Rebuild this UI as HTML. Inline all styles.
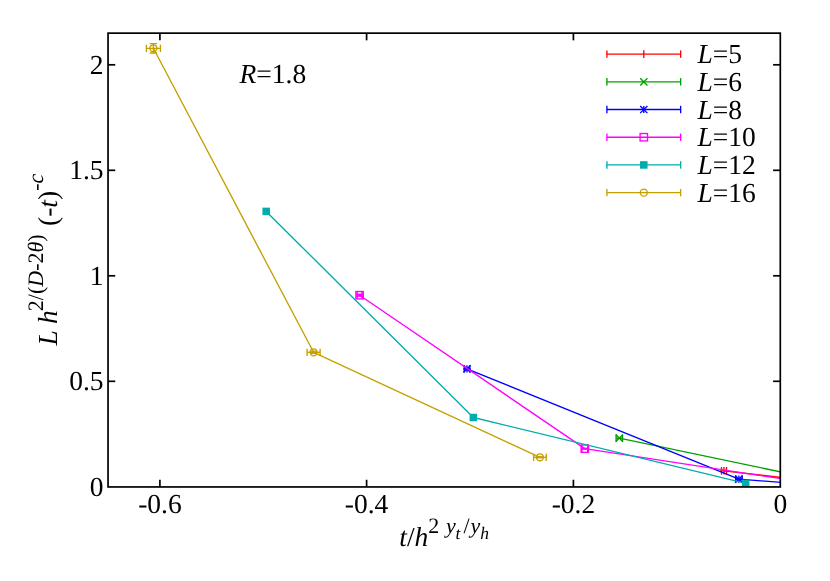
<!DOCTYPE html>
<html><head><meta charset="utf-8"><title>plot</title>
<style>
html,body{margin:0;padding:0;background:#fff;}
svg{display:block;will-change:transform;}
text{font-family:"Liberation Serif",serif;fill:#000;text-rendering:geometricPrecision;}
.i{font-style:italic;}
</style></head><body>
<svg width="830" height="581" viewBox="0 0 830 581">
<rect width="830" height="581" fill="#fff"/>
<defs><clipPath id="c"><rect x="108.05" y="33.15" width="672.25" height="453.8"/></clipPath></defs>

<g clip-path="url(#c)">
<polyline points="724.00,470.80 900.00,491.57" fill="none" stroke="#ff0000" stroke-width="1.35" stroke-linejoin="round"/>
<line x1="721.50" y1="470.80" x2="726.50" y2="470.80" stroke="#ff0000" stroke-width="1.35" /><line x1="721.50" y1="467.00" x2="721.50" y2="474.60" stroke="#ff0000" stroke-width="1.35" /><line x1="726.50" y1="467.00" x2="726.50" y2="474.60" stroke="#ff0000" stroke-width="1.35" />
<line x1="724.00" y1="467.00" x2="724.00" y2="474.60" stroke="#ff0000" stroke-width="1.35" />
<line x1="720.20" y1="470.80" x2="721.50" y2="470.80" stroke="#ff0000" stroke-width="1.35" />
<line x1="726.50" y1="470.80" x2="727.80" y2="470.80" stroke="#ff0000" stroke-width="1.35" />
<polyline points="619.30,438.20 900.00,496.78" fill="none" stroke="#00a000" stroke-width="1.35" stroke-linejoin="round"/>
<line x1="616.10" y1="438.20" x2="622.50" y2="438.20" stroke="#00a000" stroke-width="1.35" /><line x1="616.10" y1="434.60" x2="616.10" y2="441.80" stroke="#00a000" stroke-width="1.35" /><line x1="622.50" y1="434.60" x2="622.50" y2="441.80" stroke="#00a000" stroke-width="1.35" />
<line x1="615.70" y1="434.60" x2="622.90" y2="441.80" stroke="#00a000" stroke-width="1.35" /><line x1="615.70" y1="441.80" x2="622.90" y2="434.60" stroke="#00a000" stroke-width="1.35" />
<polyline points="467.00,368.90 738.90,479.10 900.00,491.67" fill="none" stroke="#0000ff" stroke-width="1.35" stroke-linejoin="round"/>
<line x1="464.20" y1="368.90" x2="469.80" y2="368.90" stroke="#0000ff" stroke-width="1.35" /><line x1="464.20" y1="365.30" x2="464.20" y2="372.50" stroke="#0000ff" stroke-width="1.35" /><line x1="469.80" y1="365.30" x2="469.80" y2="372.50" stroke="#0000ff" stroke-width="1.35" />
<line x1="467.00" y1="365.30" x2="467.00" y2="372.50" stroke="#0000ff" stroke-width="1.35" /><line x1="463.40" y1="365.30" x2="470.60" y2="372.50" stroke="#0000ff" stroke-width="1.35" /><line x1="463.40" y1="372.50" x2="470.60" y2="365.30" stroke="#0000ff" stroke-width="1.35" />
<line x1="463.20" y1="368.90" x2="470.80" y2="368.90" stroke="#0000ff" stroke-width="1.35" />
<line x1="735.60" y1="479.10" x2="742.20" y2="479.10" stroke="#0000ff" stroke-width="1.35" /><line x1="735.60" y1="475.50" x2="735.60" y2="482.70" stroke="#0000ff" stroke-width="1.35" /><line x1="742.20" y1="475.50" x2="742.20" y2="482.70" stroke="#0000ff" stroke-width="1.35" />
<line x1="738.90" y1="475.50" x2="738.90" y2="482.70" stroke="#0000ff" stroke-width="1.35" /><line x1="735.30" y1="475.50" x2="742.50" y2="482.70" stroke="#0000ff" stroke-width="1.35" /><line x1="735.30" y1="482.70" x2="742.50" y2="475.50" stroke="#0000ff" stroke-width="1.35" />
<line x1="735.10" y1="479.10" x2="742.70" y2="479.10" stroke="#0000ff" stroke-width="1.35" />
<polyline points="359.60,295.20 584.80,448.65 900.00,496.88" fill="none" stroke="#ff00ff" stroke-width="1.35" stroke-linejoin="round"/>
<line x1="357.20" y1="295.20" x2="362.00" y2="295.20" stroke="#ff00ff" stroke-width="1.35" /><line x1="357.20" y1="291.60" x2="357.20" y2="298.80" stroke="#ff00ff" stroke-width="1.35" /><line x1="362.00" y1="291.60" x2="362.00" y2="298.80" stroke="#ff00ff" stroke-width="1.35" />
<line x1="359.60" y1="294.20" x2="359.60" y2="296.20" stroke="#ff00ff" stroke-width="1.35" /><line x1="356.00" y1="294.20" x2="363.20" y2="294.20" stroke="#ff00ff" stroke-width="1.35" /><line x1="356.00" y1="296.20" x2="363.20" y2="296.20" stroke="#ff00ff" stroke-width="1.35" />
<rect x="355.90" y="291.50" width="7.40" height="7.40" fill="none" stroke="#ff00ff" stroke-width="1.35"/>
<line x1="581.90" y1="448.65" x2="587.70" y2="448.65" stroke="#ff00ff" stroke-width="1.35" /><line x1="581.90" y1="445.05" x2="581.90" y2="452.25" stroke="#ff00ff" stroke-width="1.35" /><line x1="587.70" y1="445.05" x2="587.70" y2="452.25" stroke="#ff00ff" stroke-width="1.35" />
<line x1="584.80" y1="448.30" x2="584.80" y2="449.00" stroke="#ff00ff" stroke-width="1.35" /><line x1="581.20" y1="448.30" x2="588.40" y2="448.30" stroke="#ff00ff" stroke-width="1.35" /><line x1="581.20" y1="449.00" x2="588.40" y2="449.00" stroke="#ff00ff" stroke-width="1.35" />
<rect x="581.10" y="444.95" width="7.40" height="7.40" fill="none" stroke="#ff00ff" stroke-width="1.35"/>
<polyline points="266.20,211.40 473.35,417.50 745.70,483.30" fill="none" stroke="#00acac" stroke-width="1.35" stroke-linejoin="round"/>
<rect x="262.45" y="207.65" width="7.50" height="7.50" fill="#00acac"/>
<rect x="469.60" y="413.75" width="7.50" height="7.50" fill="#00acac"/>
<rect x="741.95" y="479.55" width="7.50" height="7.50" fill="#00acac"/>
<polyline points="153.40,48.30 313.60,352.30 539.90,457.30" fill="none" stroke="#c4a000" stroke-width="1.35" stroke-linejoin="round"/>
<line x1="146.35" y1="48.30" x2="160.45" y2="48.30" stroke="#c4a000" stroke-width="1.35" /><line x1="146.35" y1="44.70" x2="146.35" y2="51.90" stroke="#c4a000" stroke-width="1.35" /><line x1="160.45" y1="44.70" x2="160.45" y2="51.90" stroke="#c4a000" stroke-width="1.35" />
<line x1="153.40" y1="43.65" x2="153.40" y2="52.95" stroke="#c4a000" stroke-width="1.35" /><line x1="149.80" y1="43.65" x2="157.00" y2="43.65" stroke="#c4a000" stroke-width="1.35" /><line x1="149.80" y1="52.95" x2="157.00" y2="52.95" stroke="#c4a000" stroke-width="1.35" />
<circle cx="153.40" cy="48.30" r="3.5" fill="none" stroke="#c4a000" stroke-width="1.35"/>
<line x1="307.10" y1="352.30" x2="320.10" y2="352.30" stroke="#c4a000" stroke-width="1.35" /><line x1="307.10" y1="348.70" x2="307.10" y2="355.90" stroke="#c4a000" stroke-width="1.35" /><line x1="320.10" y1="348.70" x2="320.10" y2="355.90" stroke="#c4a000" stroke-width="1.35" />
<line x1="313.60" y1="351.20" x2="313.60" y2="353.40" stroke="#c4a000" stroke-width="1.35" /><line x1="310.60" y1="351.20" x2="316.60" y2="351.20" stroke="#c4a000" stroke-width="1.35" /><line x1="310.60" y1="353.40" x2="316.60" y2="353.40" stroke="#c4a000" stroke-width="1.35" />
<circle cx="313.60" cy="352.30" r="3.5" fill="none" stroke="#c4a000" stroke-width="1.35"/>
<line x1="533.60" y1="457.30" x2="546.20" y2="457.30" stroke="#c4a000" stroke-width="1.35" /><line x1="533.60" y1="453.70" x2="533.60" y2="460.90" stroke="#c4a000" stroke-width="1.35" /><line x1="546.20" y1="453.70" x2="546.20" y2="460.90" stroke="#c4a000" stroke-width="1.35" />
<line x1="539.90" y1="456.85" x2="539.90" y2="457.75" stroke="#c4a000" stroke-width="1.35" /><line x1="536.90" y1="456.85" x2="542.90" y2="456.85" stroke="#c4a000" stroke-width="1.35" /><line x1="536.90" y1="457.75" x2="542.90" y2="457.75" stroke="#c4a000" stroke-width="1.35" />
<circle cx="539.90" cy="457.30" r="3.5" fill="none" stroke="#c4a000" stroke-width="1.35"/>
</g>
<rect x="108.05" y="33.15" width="672.25" height="453.8" fill="none" stroke="#000" stroke-width="1.7"/>
<line x1="159.90" y1="486.95" x2="159.90" y2="479.75" stroke="#000" stroke-width="1.7" />
<line x1="159.90" y1="33.15" x2="159.90" y2="40.35" stroke="#000" stroke-width="1.7" />
<text x="159.9" y="512.8" font-size="27.5" text-anchor="middle">-0.6</text>
<line x1="366.60" y1="486.95" x2="366.60" y2="479.75" stroke="#000" stroke-width="1.7" />
<line x1="366.60" y1="33.15" x2="366.60" y2="40.35" stroke="#000" stroke-width="1.7" />
<text x="366.6" y="512.8" font-size="27.5" text-anchor="middle">-0.4</text>
<line x1="573.40" y1="486.95" x2="573.40" y2="479.75" stroke="#000" stroke-width="1.7" />
<line x1="573.40" y1="33.15" x2="573.40" y2="40.35" stroke="#000" stroke-width="1.7" />
<text x="573.4" y="512.8" font-size="27.5" text-anchor="middle">-0.2</text>
<text x="780.3" y="512.8" font-size="27.5" text-anchor="middle">0</text>
<text x="103.6" y="495.9" font-size="27.5" text-anchor="end">0</text>
<line x1="108.05" y1="381.30" x2="115.25" y2="381.30" stroke="#000" stroke-width="1.7" />
<line x1="780.30" y1="381.30" x2="773.10" y2="381.30" stroke="#000" stroke-width="1.7" />
<text x="103.6" y="390.3" font-size="27.5" text-anchor="end">0.5</text>
<line x1="108.05" y1="275.80" x2="115.25" y2="275.80" stroke="#000" stroke-width="1.7" />
<line x1="780.30" y1="275.80" x2="773.10" y2="275.80" stroke="#000" stroke-width="1.7" />
<text x="103.6" y="284.8" font-size="27.5" text-anchor="end">1</text>
<line x1="108.05" y1="170.30" x2="115.25" y2="170.30" stroke="#000" stroke-width="1.7" />
<line x1="780.30" y1="170.30" x2="773.10" y2="170.30" stroke="#000" stroke-width="1.7" />
<text x="103.6" y="179.3" font-size="27.5" text-anchor="end">1.5</text>
<line x1="108.05" y1="64.80" x2="115.25" y2="64.80" stroke="#000" stroke-width="1.7" />
<line x1="780.30" y1="64.80" x2="773.10" y2="64.80" stroke="#000" stroke-width="1.7" />
<text x="103.6" y="73.8" font-size="27.5" text-anchor="end">2</text>
<line x1="606.90" y1="54.10" x2="680.65" y2="54.10" stroke="#ff0000" stroke-width="1.35" />
<line x1="606.90" y1="50.40" x2="606.90" y2="57.80" stroke="#ff0000" stroke-width="1.35" />
<line x1="680.65" y1="50.40" x2="680.65" y2="57.80" stroke="#ff0000" stroke-width="1.35" />
<line x1="643.80" y1="50.30" x2="643.80" y2="57.90" stroke="#ff0000" stroke-width="1.35" />
<text x="697.5" y="63.1" font-size="27.5"><tspan class="i">L</tspan>=5</text>
<line x1="606.90" y1="81.81" x2="680.65" y2="81.81" stroke="#00a000" stroke-width="1.35" />
<line x1="606.90" y1="78.11" x2="606.90" y2="85.51" stroke="#00a000" stroke-width="1.35" />
<line x1="680.65" y1="78.11" x2="680.65" y2="85.51" stroke="#00a000" stroke-width="1.35" />
<line x1="640.20" y1="78.21" x2="647.40" y2="85.41" stroke="#00a000" stroke-width="1.35" /><line x1="640.20" y1="85.41" x2="647.40" y2="78.21" stroke="#00a000" stroke-width="1.35" />
<text x="697.5" y="90.8" font-size="27.5"><tspan class="i">L</tspan>=6</text>
<line x1="606.90" y1="109.52" x2="680.65" y2="109.52" stroke="#0000ff" stroke-width="1.35" />
<line x1="606.90" y1="105.82" x2="606.90" y2="113.22" stroke="#0000ff" stroke-width="1.35" />
<line x1="680.65" y1="105.82" x2="680.65" y2="113.22" stroke="#0000ff" stroke-width="1.35" />
<line x1="643.80" y1="105.92" x2="643.80" y2="113.12" stroke="#0000ff" stroke-width="1.35" /><line x1="640.20" y1="105.92" x2="647.40" y2="113.12" stroke="#0000ff" stroke-width="1.35" /><line x1="640.20" y1="113.12" x2="647.40" y2="105.92" stroke="#0000ff" stroke-width="1.35" />
<text x="697.5" y="118.5" font-size="27.5"><tspan class="i">L</tspan>=8</text>
<line x1="606.90" y1="137.23" x2="680.65" y2="137.23" stroke="#ff00ff" stroke-width="1.35" />
<line x1="606.90" y1="133.53" x2="606.90" y2="140.93" stroke="#ff00ff" stroke-width="1.35" />
<line x1="680.65" y1="133.53" x2="680.65" y2="140.93" stroke="#ff00ff" stroke-width="1.35" />
<rect x="640.10" y="133.53" width="7.40" height="7.40" fill="none" stroke="#ff00ff" stroke-width="1.35"/>
<text x="697.5" y="146.2" font-size="27.5"><tspan class="i">L</tspan>=10</text>
<line x1="606.90" y1="164.94" x2="680.65" y2="164.94" stroke="#00acac" stroke-width="1.35" />
<line x1="606.90" y1="161.24" x2="606.90" y2="168.64" stroke="#00acac" stroke-width="1.35" />
<line x1="680.65" y1="161.24" x2="680.65" y2="168.64" stroke="#00acac" stroke-width="1.35" />
<rect x="640.05" y="161.19" width="7.50" height="7.50" fill="#00acac"/>
<text x="697.5" y="173.9" font-size="27.5"><tspan class="i">L</tspan>=12</text>
<line x1="606.90" y1="192.65" x2="680.65" y2="192.65" stroke="#c4a000" stroke-width="1.35" />
<line x1="606.90" y1="188.95" x2="606.90" y2="196.35" stroke="#c4a000" stroke-width="1.35" />
<line x1="680.65" y1="188.95" x2="680.65" y2="196.35" stroke="#c4a000" stroke-width="1.35" />
<circle cx="643.80" cy="192.65" r="3.5" fill="none" stroke="#c4a000" stroke-width="1.35"/>
<text x="697.5" y="201.7" font-size="27.5"><tspan class="i">L</tspan>=16</text>
<text x="239.5" y="83.3" font-size="27.5"><tspan class="i">R</tspan>=1.8</text>
<text y="545.8" font-size="27.5"><tspan x="399.3" class="i">t</tspan>/<tspan class="i">h</tspan><tspan font-size="22" y="532.8"><tspan x="428.3">2</tspan><tspan x="446" class="i">y</tspan><tspan x="463.6">/</tspan><tspan x="470.6" class="i">y</tspan></tspan><tspan font-size="17.5" class="i" y="538.5"><tspan x="455.6">t</tspan><tspan x="480.2">h</tspan></tspan></text>
<text transform="translate(57.2,345.6) rotate(-90)" font-size="27.5"><tspan class="i">L h</tspan><tspan font-size="22" dy="-14.5" dx="-1">2/(<tspan class="i">D</tspan>-2<tspan class="i">θ</tspan>)</tspan><tspan dy="14.5" dx="1.5"> (-<tspan class="i">t</tspan>)</tspan><tspan font-size="22" dy="-14.5">-<tspan class="i">c</tspan></tspan></text>
</svg></body></html>
